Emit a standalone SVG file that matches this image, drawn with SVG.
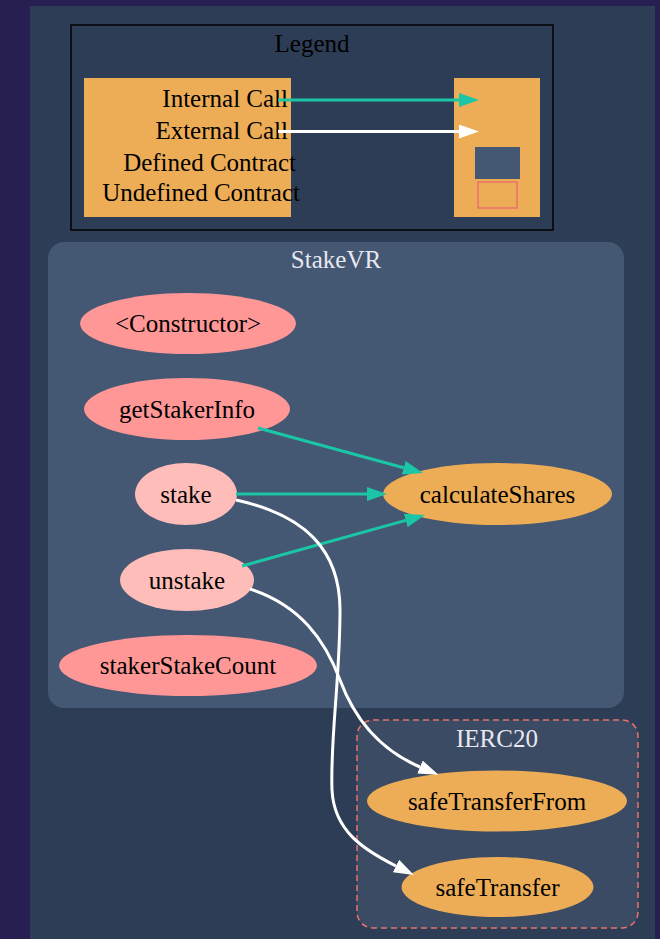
<svg xmlns="http://www.w3.org/2000/svg" width="660" height="939" viewBox="0 0 660 939">
<style>
text{font-family:"Liberation Serif","Times New Roman",serif;font-size:25px;fill:#000}
.c{text-anchor:middle}
.e{text-anchor:end}
.cl{fill:#e8e8f0}
.pub{fill:#ff9797}
.int{fill:#ffbdb9}
.org{fill:#edad56}
.ic{fill:none;stroke:#1bc6a6;stroke-width:3}
.ec{fill:none;stroke:#ffffff;stroke-width:3}
</style>
<defs>
<marker id="aT" markerUnits="userSpaceOnUse" markerWidth="22" markerHeight="16" refX="0" refY="7" orient="auto" viewBox="0 0 22 16"><path d="M0,0 L20,7 L0,14 z" fill="#1bc6a6"/></marker>
<marker id="aW" markerUnits="userSpaceOnUse" markerWidth="22" markerHeight="16" refX="0" refY="7" orient="auto" viewBox="0 0 22 16"><path d="M0,0 L20,7 L0,14 z" fill="#ffffff"/></marker>
</defs>
<rect x="0" y="0" width="660" height="939" fill="#271f52"/>
<rect x="30" y="6" width="625" height="933" fill="#2e3d56"/>

<g id="legend">
<rect x="71" y="25" width="482" height="205" fill="none" stroke="#000" stroke-width="1.5"/>
<text class="c" x="312" y="52">Legend</text>
<rect x="84" y="78" width="207" height="139" fill="#edad56"/>
<rect x="454" y="78" width="86" height="139" fill="#edad56"/>
<text class="e" x="288" y="107">Internal Call</text>
<text class="e" x="288" y="139">External Call</text>
<text class="e" x="296" y="171">Defined Contract</text>
<text class="e" x="300" y="201">Undefined Contract</text>
<rect x="475" y="147" width="45" height="32" fill="#445773"/>
<rect x="478" y="182" width="39" height="26" fill="#edad56" stroke="#e8726d" stroke-width="1.5"/>
<path class="ic" d="M278,100 L459,100" marker-end="url(#aT)"/>
<path class="ec" d="M278,131.5 L459,131.5" marker-end="url(#aW)"/>
</g>

<g id="cluster_StakeVR">
<rect x="48" y="242" width="576" height="466" rx="16" fill="#445773"/>
<text class="c cl" x="336" y="268">StakeVR</text>
</g>

<g id="cluster_IERC20">
<rect x="357" y="720" width="281" height="208" rx="16" fill="#3b4b64" stroke="#e8726d" stroke-width="1.5" stroke-dasharray="6,4"/>
<text class="c cl" x="497" y="747">IERC20</text>
</g>

<g id="node_constructor">
<ellipse class="pub" cx="188" cy="323.5" rx="108" ry="30.5"/>
<text class="c" x="188" y="332">&lt;Constructor&gt;</text>
</g>
<g id="node_getStakerInfo">
<ellipse class="pub" cx="187" cy="409" rx="103" ry="31"/>
<text class="c" x="187" y="417.5">getStakerInfo</text>
</g>
<g id="node_stake">
<ellipse class="int" cx="186" cy="494" rx="51" ry="31"/>
<text class="c" x="186" y="502.5">stake</text>
</g>
<g id="node_unstake">
<ellipse class="int" cx="187" cy="580" rx="67" ry="31"/>
<text class="c" x="187" y="588.5">unstake</text>
</g>
<g id="node_stakerStakeCount">
<ellipse class="pub" cx="188" cy="665.5" rx="129" ry="30.5"/>
<text class="c" x="188" y="673.5">stakerStakeCount</text>
</g>
<g id="node_calculateShares">
<ellipse class="org" cx="497.5" cy="494" rx="114.5" ry="31"/>
<text class="c" x="497.5" y="502.5">calculateShares</text>
</g>
<g id="node_safeTransferFrom">
<ellipse class="org" cx="497" cy="801" rx="130" ry="30.5"/>
<text class="c" x="497" y="809.5">safeTransferFrom</text>
</g>
<g id="node_safeTransfer">
<ellipse class="org" cx="497.5" cy="887" rx="96" ry="30"/>
<text class="c" x="497.5" y="895.5">safeTransfer</text>
</g>

<g id="edges">
<path class="ic" d="M258,428 L403.7,467.7" marker-end="url(#aT)"/>
<path class="ic" d="M236,494 L367,494" marker-end="url(#aT)"/>
<path class="ic" d="M242,566 L405.7,520.4" marker-end="url(#aT)"/>
<path class="ec" d="M236,500 C305,515 340,550 340,610 C340,680 330,740 332,790 C334,830 362,849 396,866" marker-end="url(#aW)"/>
<path class="ec" d="M250,589 C300,605 325,640 340,680 C355,720 380,750 420,767" marker-end="url(#aW)"/>
</g>
</svg>
